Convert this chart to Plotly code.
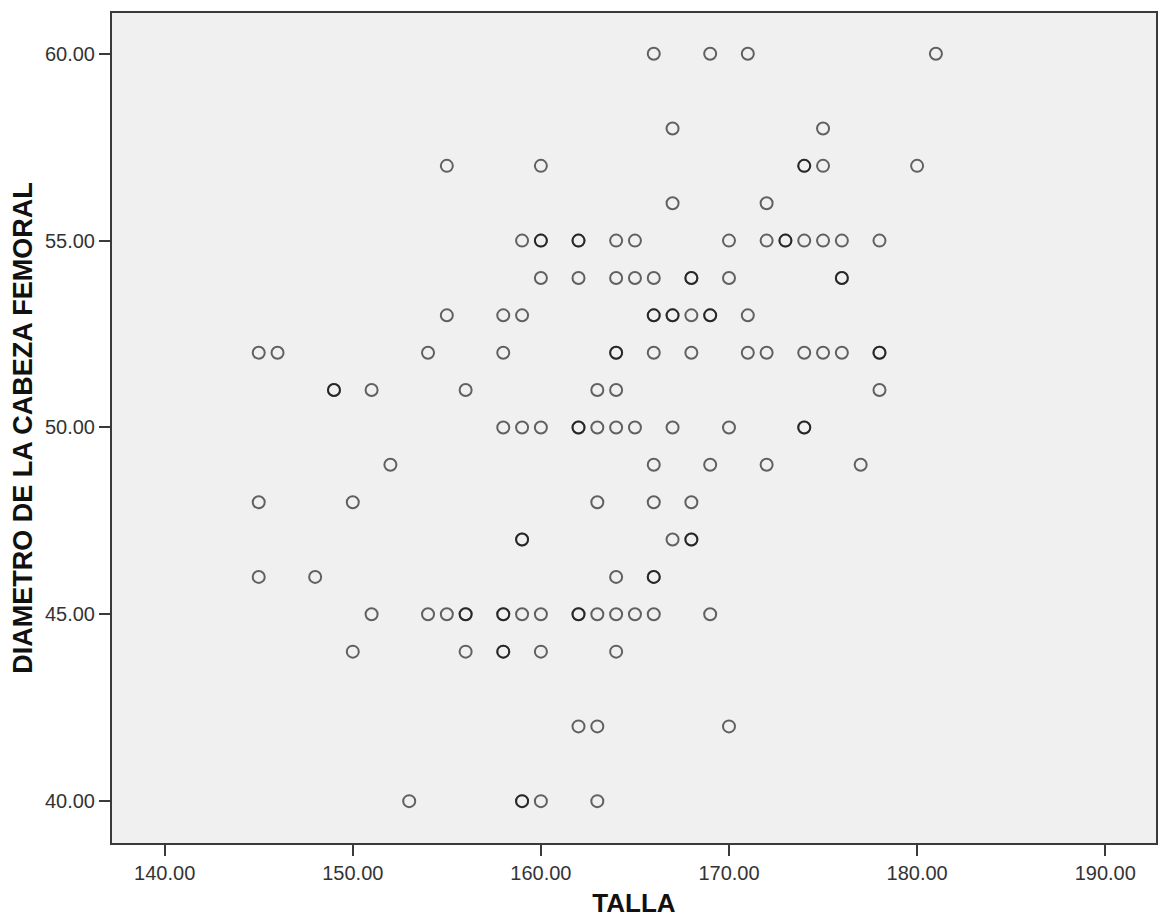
import plotly.graph_objects as go

# TALLA (x) and DIAMETRO DE LA CABEZA FEMORAL (y); repeated pairs are overlapping cases
talla = [
    166, 169, 171, 181,
    167, 175,
    155, 160, 174, 174, 175, 180,
    167, 172,
    159, 160, 160, 162, 162, 164, 165, 170, 172, 173, 173, 174, 175, 176, 178,
    160, 162, 164, 165, 166, 168, 168, 170, 176, 176,
    155, 158, 159, 166, 166, 167, 167, 168, 169, 169, 171,
    145, 146, 154, 158, 164, 164, 166, 168, 171, 172, 174, 175, 176, 178, 178,
    149, 149, 151, 156, 163, 164, 178,
    158, 159, 160, 162, 162, 163, 164, 165, 167, 170, 174, 174,
    152, 166, 169, 172, 177,
    145, 150, 163, 166, 168,
    159, 159, 167, 168, 168,
    145, 148, 164, 166, 166,
    151, 154, 155, 156, 156, 158, 158, 159, 160, 162, 162, 163, 164, 165, 166, 169,
    150, 156, 158, 158, 160, 164,
    162, 163, 170,
    153, 159, 159, 160, 163,
]
diametro = (
    [60] * 4 + [58] * 2 + [57] * 6 + [56] * 2 + [55] * 15 + [54] * 10 +
    [53] * 11 + [52] * 15 + [51] * 7 + [50] * 12 + [49] * 5 + [48] * 5 +
    [47] * 5 + [46] * 5 + [45] * 16 + [44] * 6 + [42] * 3 + [40] * 5
)

x_ticks = [140, 150, 160, 170, 180, 190]
y_ticks = [40, 45, 50, 55, 60]

FONT = "Arial, Liberation Sans, sans-serif"

fig = go.Figure(
    go.Scatter(
        x=talla,
        y=diametro,
        mode="markers",
        marker=dict(
            symbol="circle-open",
            size=12,
            color="rgba(0,0,0,0.6)",
            line=dict(width=2, color="rgba(0,0,0,0.6)"),
        ),
        showlegend=False,
    )
)

axis_common = dict(
    showgrid=False,
    zeroline=False,
    showline=True,
    mirror=True,
    linecolor="#3a3a3a",
    linewidth=2,
    ticks="outside",
    ticklen=11,
    tickwidth=2,
    tickcolor="#3a3a3a",
    tickformat=".2f",
    tickfont=dict(family=FONT, size=20, color="#333333"),
)

fig.update_xaxes(
    range=[137.2, 192.7],
    tickvals=x_ticks,
    title=dict(text="<b>TALLA</b>", font=dict(family=FONT, size=26, color="#111111"), standoff=11),
    **axis_common,
)
fig.update_yaxes(
    range=[38.88, 61.09],
    tickvals=y_ticks,
    title=dict(text="<b>DIAMETRO DE LA CABEZA FEMORAL</b>", font=dict(family=FONT, size=27, color="#111111"), standoff=4),
    **axis_common,
)

fig.update_layout(
    width=1161,
    height=923,
    margin=dict(l=112, r=3, t=13, b=80),
    plot_bgcolor="#F0F0F0",
    paper_bgcolor="white",
    font=dict(family=FONT),
)

fig.write_html("out.html")
